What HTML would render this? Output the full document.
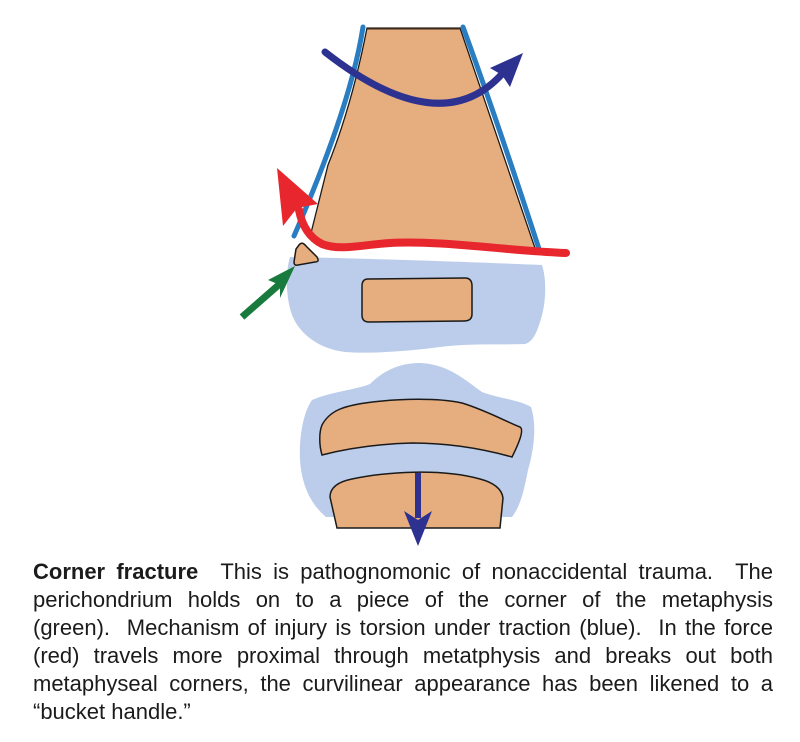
<!DOCTYPE html>
<html>
<head>
<meta charset="utf-8">
<style>
  html, body { margin:0; padding:0; background:#ffffff; }
  body { width:800px; height:742px; position:relative; overflow:hidden; }
  svg { position:absolute; left:0; top:0; }
  .t { position:absolute; left:33px; width:740px; font-family:"Liberation Sans", Arial, sans-serif; font-size:22px; line-height:28px; color:#1b1b1b; text-align:justify; text-align-last:justify; white-space:normal; }
  .last { text-align:left; text-align-last:left; }
  b { font-weight:bold; }
</style>
</head>
<body>
<svg width="800" height="742" viewBox="0 0 800 742" xmlns="http://www.w3.org/2000/svg">
  <!-- upper light blue (physis/epiphysis) -->
  <path d="M290,257 C350,258 470,262 542,265 C547,280 546,305 540,322 C536,335 532,342 525,344 C500,345 470,343 440,347 C410,351 370,354 345,352 C320,349 300,335 292,315 C285,295 286,270 290,257 Z" fill="#BBCDEA"/>
  <!-- inner ossification rect -->
  <path d="M368,279 L465,278 Q472,278 472,286 L472,314 Q472,321 464,321 L369,322 Q362,322 362,315 L362,286 Q362,279 368,279 Z" fill="#E6AD7F" stroke="#1a1a1a" stroke-width="1.5"/>
  <!-- corner fragment -->
  <path d="M299,245 Q302,241 306,246 L317,257 Q320,262 315,262 L298,265 Q294,266 294,262 L296,249 Z" fill="#E6AD7F" stroke="#1a1a1a" stroke-width="1.5"/>

  <!-- metaphysis / shaft -->
  <path d="M367,28 L460,28 Q493,125 536,251 C500,249 440,240 390,243 C360,245 340,250 322,244 L311,233 L328,165 Q352,105 367,28 Z" fill="#E6AD7F" stroke="#1a1a1a" stroke-width="1.3"/>
  <line x1="367" y1="28.5" x2="460" y2="28.5" stroke="#3a2a1a" stroke-width="2"/>

  <!-- periosteum blue lines -->
  <path d="M363,27 Q351,105 294,236" fill="none" stroke="#2A7DC1" stroke-width="5" stroke-linecap="round"/>
  <path d="M463,27 Q497,120 540,252" fill="none" stroke="#2A7DC1" stroke-width="5" stroke-linecap="round"/>

  <!-- red force path -->
  <path d="M566,253 C510,251 440,240 390,243 C360,245 340,251 322,244 C310,238 302,226 299,210" fill="none" stroke="#E8262D" stroke-width="8" stroke-linecap="round"/>
  <polygon points="277,168 283,226 297,208 318,204" fill="#E8262D"/>

  <!-- navy torsion arrow -->
  <path d="M325,52 Q440,142 502,74" fill="none" stroke="#2D3291" stroke-width="7" stroke-linecap="round"/>
  <polygon points="523,53 490,68 502,75 510,87" fill="#2D3291"/>

  <!-- green arrow -->
  <line x1="242" y1="317" x2="282" y2="282" stroke="#187A3C" stroke-width="7"/>
  <polygon points="295,266 268,280 280,285 280,298" fill="#187A3C"/>

  <!-- lower light blue -->
  <path d="M312,400 C330,392 355,390 370,384 C382,372 398,363 420,363 C448,364 465,380 482,392 C497,398 520,400 531,407 C537,425 534,450 528,470 C524,490 521,505 512,517 L326,517 C312,505 302,488 300,460 C299,437 303,413 312,400 Z" fill="#BBCDEA"/>
  <!-- lower upper tan piece -->
  <path d="M322,455 C319,445 319,432 322,425 C330,410 345,406 365,403 C400,398 440,398 462,403 C485,410 505,421 520,427 C525,430 517,447 512,457 C480,448 445,443 412,443 C375,444 345,449 322,455 Z" fill="#E6AD7F" stroke="#1a1a1a" stroke-width="1.5"/>
  <!-- lower bottom tan piece -->
  <path d="M337,528 L330,497 C330,488 337,482 352,479 C385,472 440,468 480,479 C495,483 502,490 503,498 L500,528 Z" fill="#E6AD7F" stroke="#1a1a1a" stroke-width="1.5"/>
  <!-- navy down arrow -->
  <line x1="418" y1="473" x2="418" y2="518" stroke="#2D3291" stroke-width="6"/>
  <polygon points="418,546 404,511 418,520 432,511" fill="#2D3291"/>
</svg>

<div class="t" style="top:558px;"><b>Corner fracture</b>&nbsp; This is pathognomonic of nonaccidental trauma.&nbsp; The</div>
<div class="t" style="top:586px;">perichondrium holds on to a piece of the corner of the metaphysis</div>
<div class="t" style="top:614px;">(green).&nbsp; Mechanism of injury is torsion under traction (blue).&nbsp; In the force</div>
<div class="t" style="top:642px;">(red) travels more proximal through metatphysis and breaks out both</div>
<div class="t" style="top:670px;">metaphyseal corners, the curvilinear appearance has been likened to a</div>
<div class="t last" style="top:698px;">“bucket handle.”</div>
</body>
</html>
